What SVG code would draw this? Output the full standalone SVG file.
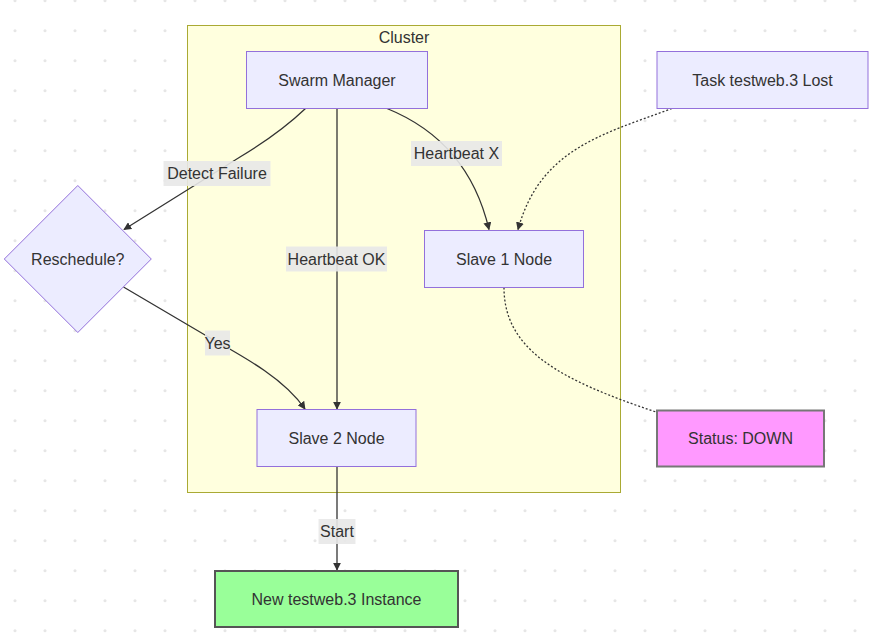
<svg xmlns="http://www.w3.org/2000/svg" width="876" height="633" viewBox="0 0 876 633">
<defs>
<pattern id="dots" x="0" y="0" width="30" height="30" patternUnits="userSpaceOnUse">
<circle cx="15" cy="0.7" r="1.5" fill="#e6e6e6"/>
<circle cx="15" cy="30.7" r="1.5" fill="#e6e6e6"/>
</pattern>
<marker id="arrow" viewBox="0 0 10 10" refX="9" refY="5" markerWidth="8" markerHeight="8" markerUnits="userSpaceOnUse" orient="auto">
<path d="M0,0 L10,5 L0,10 z" fill="#333"/>
</marker>
<style>
text{font-family:"Liberation Sans",Arial,sans-serif;font-size:16px;fill:#333;text-anchor:middle;dominant-baseline:central}
.node{fill:#ECECFF;stroke:#9370DB;stroke-width:1}
.edge{fill:none;stroke:#333;stroke-width:1.3}
.dotted{fill:none;stroke:#333;stroke-width:1.3;stroke-dasharray:2 2}
.lbl{fill:#e8e8e8;opacity:0.9}
</style>
</defs>
<rect width="876" height="633" fill="#ffffff"/>
<rect width="876" height="633" fill="url(#dots)"/>

<g id="cluster">
<rect x="187.5" y="25.5" width="433" height="467" fill="#ffffde" stroke="#aaaa33" stroke-width="1"/>
<text x="404" y="37.5">Cluster</text>
</g>

<g id="edges">
<path class="edge" d="M305.5,108.5 C285,128 265,142 240,157 L124,229.5" marker-end="url(#arrow)"/>
<path class="edge" d="M337,108.5 L337,409" marker-end="url(#arrow)"/>
<path class="edge" d="M387,108.5 C440,130 475,170 489,229.5" marker-end="url(#arrow)"/>
<path class="dotted" d="M672,108.5 C600,135 540,150 518,229.5" marker-end="url(#arrow)"/>
<path class="dotted" d="M504,287.5 C504,350 560,380 656,412"/>
<path class="edge" d="M123.5,287 L205,335 C250,360 285,380 305,409" marker-end="url(#arrow)"/>
<path class="edge" d="M337,467 L337,570" marker-end="url(#arrow)"/>
</g>

<g id="edge-labels">
<rect class="lbl" x="163.5" y="161" width="107" height="25"/>
<text x="217" y="173.5">Detect Failure</text>
<rect class="lbl" x="286" y="246.5" width="101" height="25"/>
<text x="336.5" y="259">Heartbeat OK</text>
<rect class="lbl" x="411" y="141" width="91" height="25"/>
<text x="456.5" y="153.5">Heartbeat X</text>
<rect class="lbl" x="205" y="330.5" width="25" height="25"/>
<text x="217.5" y="343">Yes</text>
<rect class="lbl" x="318.5" y="519" width="37" height="25"/>
<text x="337" y="531.5">Start</text>
</g>

<g id="swarm-manager">
<rect class="node" x="246.5" y="51.5" width="181" height="57"/>
<text x="337" y="80">Swarm Manager</text>
</g>
<g id="task-lost">
<rect class="node" x="657" y="51.5" width="211" height="57"/>
<text x="762.5" y="80">Task testweb.3 Lost</text>
</g>
<g id="slave1">
<rect class="node" x="424.5" y="230.5" width="159" height="57"/>
<text x="504" y="259">Slave 1 Node</text>
</g>
<g id="reschedule">
<polygon class="node" points="77.8,185.5 151.3,259 77.8,332.5 4.3,259"/>
<text x="77.8" y="259">Reschedule?</text>
</g>
<g id="slave2">
<rect class="node" x="257" y="409.5" width="159" height="57"/>
<text x="336.5" y="438">Slave 2 Node</text>
</g>
<g id="status">
<rect x="657" y="410.5" width="167" height="56" fill="#ff99ff" stroke="#777" stroke-width="2"/>
<text x="740.5" y="438.5">Status: DOWN</text>
</g>
<g id="new-instance">
<rect x="215" y="571" width="243" height="56" fill="#99ff99" stroke="#555" stroke-width="2"/>
<text x="336.5" y="599">New testweb.3 Instance</text>
</g>
</svg>
